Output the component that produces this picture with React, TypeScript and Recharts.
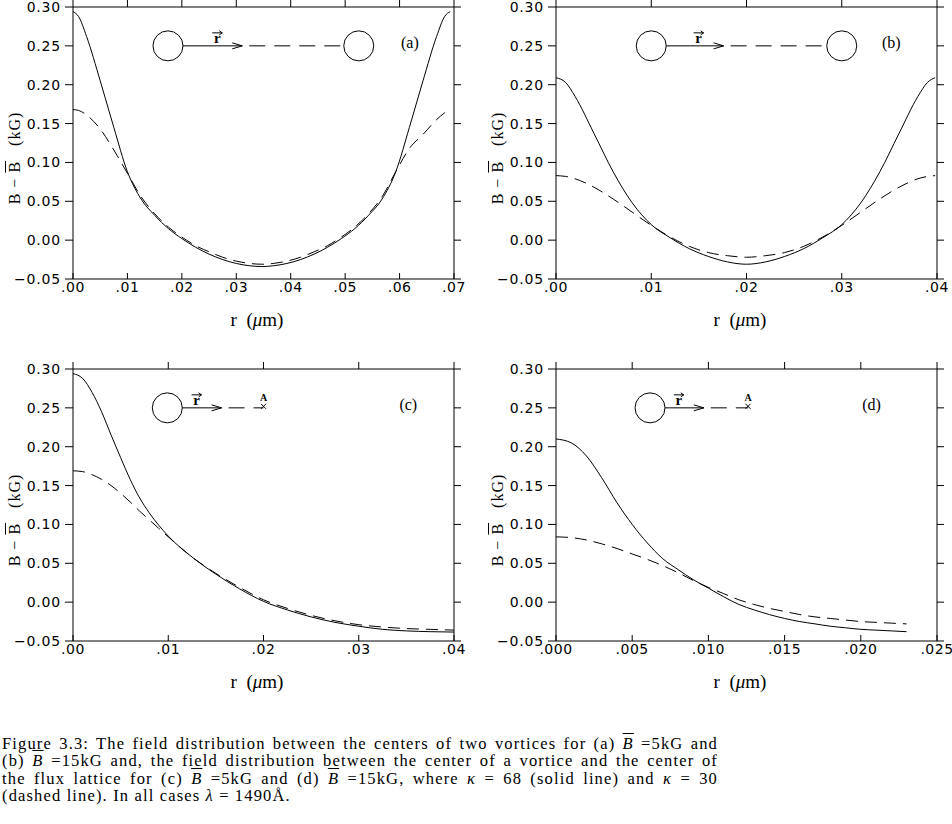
import React from "react";
import { Line, LineChart, ReferenceDot, ReferenceLine, XAxis, YAxis } from "recharts";

// shared y ticks (kG)
const yTicks = [-0.05, 0, 0.05, 0.1, 0.15, 0.2, 0.25, 0.3];

// (a) between two vortices, B = 5kG
const rA = [0, 0.001, 0.0025, 0.005, 0.0075, 0.01, 0.0125, 0.015, 0.0175, 0.02, 0.0225, 0.025, 0.0275, 0.03, 0.0325, 0.0347, 0.0368, 0.0393, 0.0418, 0.0443, 0.0468, 0.0493, 0.0518, 0.0543, 0.0568, 0.0593, 0.0618, 0.0643, 0.0668, 0.0683, 0.0693];
const solidA = [0.294, 0.288, 0.262, 0.205, 0.145, 0.088, 0.053, 0.032, 0.015, 0.002, -0.009, -0.018, -0.025, -0.030, -0.033, -0.034, -0.033, -0.030, -0.025, -0.018, -0.009, 0.002, 0.015, 0.032, 0.053, 0.088, 0.145, 0.205, 0.262, 0.288, 0.294];
const dashedA = [0.168, 0.167, 0.161, 0.143, 0.116, 0.086, 0.056, 0.034, 0.017, 0.004, -0.007, -0.015, -0.022, -0.027, -0.030, -0.031, -0.030, -0.027, -0.022, -0.015, -0.007, 0.004, 0.017, 0.034, 0.056, 0.088, 0.118, 0.136, 0.155, 0.164, 0.168];
const xTicksA = [0, 0.01, 0.02, 0.03, 0.04, 0.05, 0.06, 0.07];

// (b) between two vortices, B = 15kG
const rB = [0, 0.001, 0.002, 0.004, 0.006, 0.008, 0.01, 0.012, 0.014, 0.016, 0.018, 0.02, 0.022, 0.024, 0.026, 0.028, 0.03, 0.032, 0.034, 0.036, 0.038, 0.039, 0.0398];
const solidB = [0.209, 0.203, 0.185, 0.137, 0.088, 0.048, 0.02, 0.003, -0.011, -0.021, -0.028, -0.031, -0.028, -0.021, -0.011, 0.003, 0.02, 0.048, 0.088, 0.137, 0.185, 0.203, 0.209];
const dashedB = [0.083, 0.082, 0.079, 0.068, 0.053, 0.036, 0.019, 0.004, -0.008, -0.016, -0.02, -0.022, -0.02, -0.016, -0.008, 0.004, 0.019, 0.036, 0.053, 0.068, 0.079, 0.082, 0.083];
const xTicksB = [0, 0.01, 0.02, 0.03, 0.04];

// (c) vortex centre to lattice centre, B = 5kG
const rC = [0, 0.001, 0.002, 0.003, 0.004, 0.005, 0.006, 0.007, 0.008, 0.009, 0.01, 0.0125, 0.015, 0.0175, 0.02, 0.0225, 0.025, 0.0275, 0.03, 0.0325, 0.035, 0.0375, 0.04];
const solidC = [0.294, 0.288, 0.27, 0.245, 0.215, 0.186, 0.158, 0.134, 0.115, 0.099, 0.085, 0.058, 0.036, 0.017, 0.001, -0.01, -0.019, -0.026, -0.031, -0.035, -0.037, -0.038, -0.0385];
const dashedC = [0.169, 0.168, 0.164, 0.158, 0.15, 0.14, 0.129, 0.117, 0.106, 0.095, 0.084, 0.058, 0.037, 0.019, 0.003, -0.008, -0.017, -0.024, -0.029, -0.032, -0.034, -0.035, -0.036];
const xTicksC = [0, 0.01, 0.02, 0.03, 0.04];

// (d) vortex centre to lattice centre, B = 15kG
const rD = [0, 0.001, 0.002, 0.003, 0.004, 0.005, 0.006, 0.007, 0.008, 0.009, 0.01, 0.011, 0.012, 0.013, 0.014, 0.015, 0.016, 0.017, 0.018, 0.019, 0.02, 0.021, 0.022, 0.023];
const solidD = [0.21, 0.205, 0.188, 0.16, 0.128, 0.1, 0.076, 0.056, 0.042, 0.029, 0.018, 0.007, -0.003, -0.01, -0.016, -0.021, -0.025, -0.028, -0.031, -0.033, -0.035, -0.036, -0.037, -0.038];
const dashedD = [0.084, 0.083, 0.08, 0.075, 0.069, 0.062, 0.055, 0.047, 0.038, 0.028, 0.019, 0.011, 0.003, -0.003, -0.008, -0.012, -0.016, -0.019, -0.021, -0.023, -0.025, -0.026, -0.027, -0.028];
const xTicksD = [0, 0.005, 0.01, 0.015, 0.02, 0.025];

const rows = (r: number[], s: number[], d: number[]) => r.map((v, i) => ({ r: v, solid: s[i], dashed: d[i] }));

const tickFont = { fontFamily: "DejaVu Sans", fontSize: 14, fill: "#000" };
const serif = '"Liberation Serif", serif';

const fmtY = (v: number) => (v < 0 ? "\u2212" : "") + Math.abs(v).toFixed(2);
const fmtX = (digits: number) => (v: number) => v.toFixed(digits).replace(/^0/, "");

const YTick = (p: any) => (
  <text x={p.x} y={p.y} dy={5} textAnchor="end" style={{ ...tickFont, letterSpacing: 0.8 }}>{fmtY(p.payload.value)}</text>
);
const makeXTick = (fmt: (v: number) => string) => (p: any) => (
  <text x={p.x} y={p.y} dy={10} textAnchor="middle" style={{ ...tickFont, letterSpacing: 0.5 }}>{fmt(p.payload.value)}</text>
);
const NoTick = () => <g />;

type Inset = { c1: number; tip: number; end: number; endKind: "circle" | "cross"; label: string; labelX: number };

function ArrowHead(p: any) {
  const { cx, cy } = p;
  return (
    <g>
      <polyline points={`${cx - 10},${cy - 3} ${cx},${cy} ${cx - 10},${cy + 3}`} fill="none" stroke="#000" />
      <text x={cx - 25} y={cy - 3} textAnchor="middle" fontFamily={serif} fontWeight="bold" fontSize={15}>r</text>
      <line x1={cx - 30} y1={cy - 13} x2={cx - 20} y2={cy - 13} stroke="#000" />
      <polyline points={`${cx - 23},${cy - 15} ${cx - 20},${cy - 13} ${cx - 23},${cy - 11}`} fill="none" stroke="#000" />
    </g>
  );
}

function Cross(p: any) {
  const { cx, cy } = p;
  return (
    <g>
      <line x1={cx - 2.5} y1={cy - 4} x2={cx + 2.5} y2={cy + 1} stroke="#000" />
      <line x1={cx - 2.5} y1={cy + 1} x2={cx + 2.5} y2={cy - 4} stroke="#000" />
      <text x={cx} y={cy - 7} textAnchor="middle" fontFamily={serif} fontWeight="bold" fontSize={10}>A</text>
    </g>
  );
}

const panelLabel = (text: string) => (p: any) => (
  <text x={p.cx} y={p.cy + 5} textAnchor="middle" fontFamily={serif} fontSize={16}>{text}</text>
);

function Panel({ data, ticks, digits, inset, left, top }: { data: any[]; ticks: number[]; digits: number; inset: Inset; left: number; top: number }) {
  const dom = [ticks[0], ticks[ticks.length - 1]];
  const ax = { xAxisId: "b", yAxisId: "l" };
  return (
    <div style={{ position: "absolute", left, top, width: 476, height: 340 }}>
      <LineChart width={476} height={340} data={data} margin={{ top: 0, right: 14, bottom: 29, left: 0 }}>
        <XAxis xAxisId="b" dataKey="r" type="number" domain={dom} ticks={ticks} interval={0} height={32} tickSize={-6} tickMargin={9} tick={makeXTick(fmtX(digits))} stroke="#000" allowDataOverflow />
        <XAxis xAxisId="t" dataKey="r" type="number" orientation="top" domain={dom} ticks={ticks} interval={0} height={7} tickSize={7} tick={NoTick} stroke="#000" allowDataOverflow />
        <YAxis yAxisId="l" type="number" domain={[-0.05, 0.3]} ticks={yTicks} interval={0} width={73} tickSize={8} tickMargin={4} tick={YTick} stroke="#000" allowDataOverflow />
        <YAxis yAxisId="r" type="number" orientation="right" domain={[-0.05, 0.3]} ticks={yTicks} interval={0} width={8} tickSize={7} tick={NoTick} stroke="#000" allowDataOverflow />

        <ReferenceLine {...ax} segment={[{ x: inset.c1, y: 0.25 }, { x: inset.tip, y: 0.25 }]} stroke="#000" />
        <ReferenceLine {...ax} segment={[{ x: inset.tip, y: 0.25 }, { x: inset.end, y: 0.25 }]} stroke="#000" strokeDasharray="16 9" strokeDashoffset={-7} />
        <ReferenceDot {...ax} x={inset.c1} y={0.25} r={15} fill="#fff" stroke="#000" />
        {inset.endKind === "circle" ? (
          <ReferenceDot {...ax} x={inset.end} y={0.25} r={15} fill="#fff" stroke="#000" />
        ) : (
          <ReferenceDot {...ax} x={inset.end} y={0.25} r={3} shape={Cross} />
        )}
        <ReferenceDot {...ax} x={inset.tip} y={0.25} r={3} shape={ArrowHead} />
        <ReferenceDot {...ax} x={inset.labelX} y={0.254} r={3} shape={panelLabel(inset.label)} />

        <Line {...ax} type="monotone" dataKey="solid" stroke="#000" strokeWidth={1} dot={false} isAnimationActive={false} />
        <Line {...ax} type="monotone" dataKey="dashed" stroke="#000" strokeWidth={1} strokeDasharray="12 7" dot={false} isAnimationActive={false} />
      </LineChart>
      <div style={{ position: "absolute", left: 15, top: 158, transform: "translate(-50%, -50%) rotate(-90deg)", whiteSpace: "nowrap", fontFamily: serif, fontSize: 16, letterSpacing: 1 }}>
        B&nbsp;&minus;&nbsp;<span style={{ textDecoration: "overline" }}>B</span>&nbsp;&nbsp;&nbsp;(kG)
      </div>
      <div style={{ position: "absolute", left: 257, top: 320, transform: "translate(-50%, -50%)", whiteSpace: "nowrap", fontFamily: serif, fontSize: 19 }}>
        r&nbsp;&nbsp;(<i>&mu;</i>m)
      </div>
    </div>
  );
}

const Bbar = () => <span style={{ fontStyle: "italic", textDecoration: "overline" }}>B</span>;
const just: React.CSSProperties = { textAlign: "justify", textAlignLast: "justify", height: 17.4 };

export default function App() {
  return (
    <div style={{ position: "absolute", left: 0, top: 0, width: 952, height: 824, overflow: "hidden", background: "#fff" }}>
      <Panel data={rows(rA, solidA, dashedA)} ticks={xTicksA} digits={2} left={0} top={0}
        inset={{ c1: 0.01745, tip: 0.0311, end: 0.0525, endKind: "circle", label: "(a)", labelX: 0.0619 }} />
      <Panel data={rows(rB, solidB, dashedB)} ticks={xTicksB} digits={2} left={483} top={0}
        inset={{ c1: 0.01, tip: 0.0176, end: 0.03, endKind: "circle", label: "(b)", labelX: 0.0352 }} />
      <Panel data={rows(rC, solidC, dashedC)} ticks={xTicksC} digits={2} left={0} top={362}
        inset={{ c1: 0.0099, tip: 0.0156, end: 0.02, endKind: "cross", label: "(c)", labelX: 0.0352 }} />
      <Panel data={rows(rD, solidD, dashedD)} ticks={xTicksD} digits={3} left={483} top={362}
        inset={{ c1: 0.00617, tip: 0.0097, end: 0.0126, endKind: "cross", label: "(d)", labelX: 0.0207 }} />

      <div style={{ position: "absolute", left: 2, top: 735, width: 716, fontFamily: serif, fontSize: 16.5, letterSpacing: 1.15, lineHeight: "17.4px" }}>
        <div style={just}>Figure 3.3: The field distribution between the centers of two vortices for (a) <Bbar /> =5kG and</div>
        <div style={just}>(b) <Bbar /> =15kG and, the field distribution between the center of a vortice and the center of</div>
        <div style={just}>the flux lattice for (c) <Bbar /> =5kG and (d) <Bbar /> =15kG, where <i>&kappa;</i> = 68 (solid line) and <i>&kappa;</i> = 30</div>
        <div>(dashed line). In all cases <i>&lambda;</i> = 1490&Aring;.</div>
      </div>
    </div>
  );
}
